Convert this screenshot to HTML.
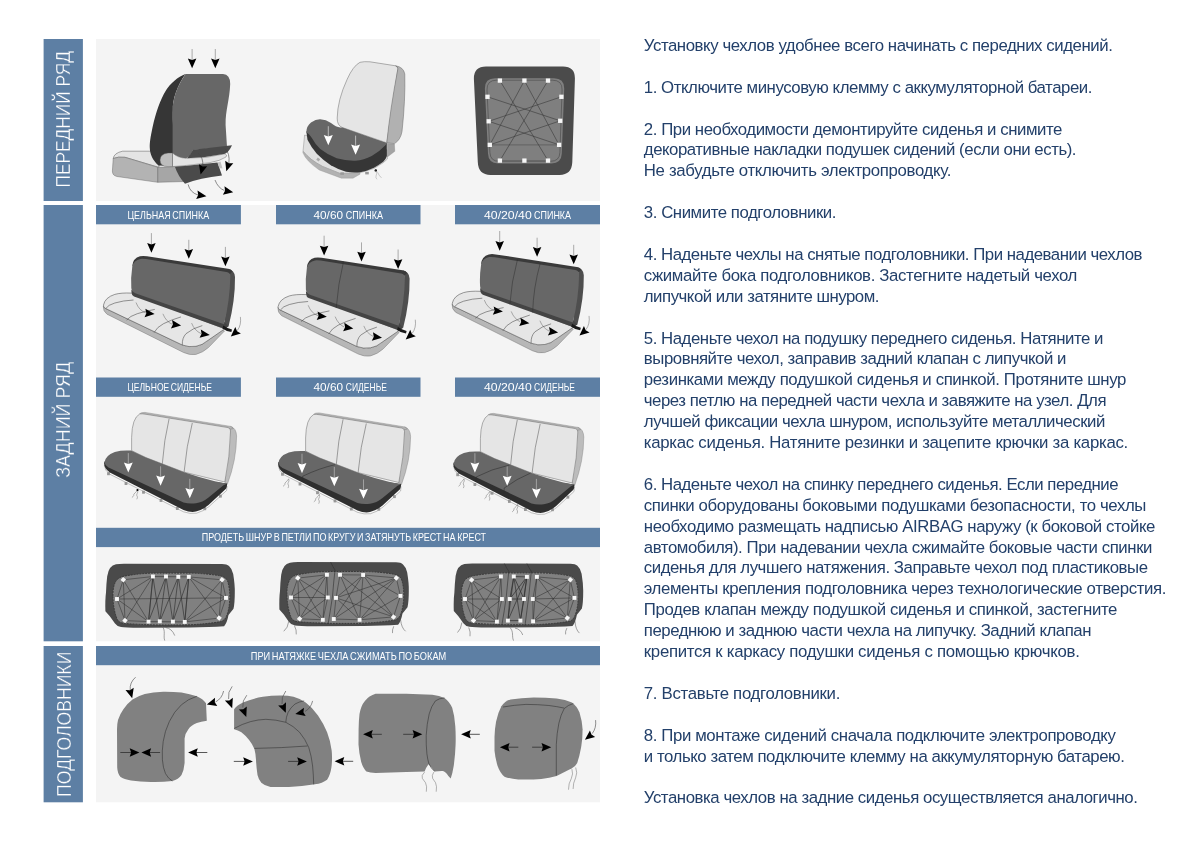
<!DOCTYPE html>
<html lang="ru"><head><meta charset="utf-8"><title>Инструкция по установке чехлов</title>
<style>
html,body{margin:0;padding:0;background:#fff;}
body{width:1200px;height:849px;position:relative;overflow:hidden;-webkit-font-smoothing:antialiased;font-family:"Liberation Sans",sans-serif;}
.t{position:absolute;left:643.8px;white-space:pre;font-size:16.8px;line-height:20.9px;height:20.9px;color:#23406a;}
svg{position:absolute;left:0;top:0;}
#wrap{position:absolute;left:0;top:0;width:1200px;height:849px;will-change:transform;transform:translateZ(0);}
svg text{font-family:"Liberation Sans",sans-serif;}
</style></head><body><div id="wrap">
<svg width="1200" height="849" viewBox="0 0 1200 849">
<defs>
<path id="ah" d="M0,0 L-3.6,-9.5 L0,-7.6 L3.6,-9.5 Z"/>
</defs>
<!-- panels -->
<g fill="#f4f4f4">
<rect x="96" y="39" width="504" height="162"/>
<rect x="96" y="205" width="504" height="436.3"/>
<rect x="96" y="646" width="504" height="156.3"/>
</g>
<!-- vertical bands -->
<g fill="#5d7fa4">
<rect x="43.6" y="39" width="39.3" height="162"/>
<rect x="43.6" y="205" width="39.3" height="436.3"/>
<rect x="43.6" y="646" width="39.3" height="156.3"/>
<rect x="96" y="205" width="144.9" height="19.3"/>
<rect x="276" y="205" width="144.5" height="19.3"/>
<rect x="455" y="205" width="145" height="19.3"/>
<rect x="96" y="377.5" width="144.9" height="19.3"/>
<rect x="276" y="377.5" width="144.5" height="19.3"/>
<rect x="455" y="377.5" width="145" height="19.3"/>
<rect x="96" y="527.8" width="504" height="19.3"/>
<rect x="96" y="646" width="504" height="19.2"/>
</g>
<g fill="#fff" font-size="10.1" word-spacing="-1">
<text x="127.5" y="218.8" textLength="81.75" lengthAdjust="spacingAndGlyphs">ЦЕЛЬНАЯ СПИНКА</text>
<text x="313.5" y="218.8" textLength="29.5" lengthAdjust="spacingAndGlyphs">40/60</text><text x="345.8" y="218.8" textLength="37.1" lengthAdjust="spacingAndGlyphs">СПИНКА</text>
<text x="484" y="218.8" textLength="47.7" lengthAdjust="spacingAndGlyphs">40/20/40</text><text x="534.1" y="218.8" textLength="36.9" lengthAdjust="spacingAndGlyphs">СПИНКА</text>
<text x="127.5" y="390.9" textLength="84.5" lengthAdjust="spacingAndGlyphs">ЦЕЛЬНОЕ СИДЕНЬЕ</text>
<text x="313.5" y="390.9" textLength="29.5" lengthAdjust="spacingAndGlyphs">40/60</text><text x="345.8" y="390.9" textLength="41.1" lengthAdjust="spacingAndGlyphs">СИДЕНЬЕ</text>
<text x="484" y="390.9" textLength="47.7" lengthAdjust="spacingAndGlyphs">40/20/40</text><text x="534.1" y="390.9" textLength="40.9" lengthAdjust="spacingAndGlyphs">СИДЕНЬЕ</text>
<text x="201.75" y="541.4" textLength="284.3" lengthAdjust="spacingAndGlyphs">ПРОДЕТЬ ШНУР В ПЕТЛИ ПО КРУГУ И ЗАТЯНУТЬ КРЕСТ НА КРЕСТ</text>
<text x="250.75" y="659.6" textLength="195.5" lengthAdjust="spacingAndGlyphs">ПРИ НАТЯЖКЕ ЧЕХЛА СЖИМАТЬ ПО БОКАМ</text>
</g>
<g fill="#fff" font-size="20.2" stroke="#5d7fa4" stroke-width="0.35">
<text transform="translate(69.8,187.5) rotate(-90)" textLength="136.5" lengthAdjust="spacingAndGlyphs">ПЕРЕДНИЙ РЯД</text>
<text transform="translate(69.8,477.8) rotate(-90)" textLength="116" lengthAdjust="spacingAndGlyphs">ЗАДНИЙ РЯД</text>
<text transform="translate(70.6,797) rotate(-90)" textLength="145.3" lengthAdjust="spacingAndGlyphs" font-size="19.6">ПОДГОЛОВНИКИ</text>
</g>
<g id="f1">
<path d="M113.2,158.5 Q114,153 122.5,151.2 L152,151.2 L160,160 L158.8,167.3 L125,157.3 Q118,156.5 113.2,158.5 Z" fill="#e4e4e4" stroke="#555" stroke-width="0.5"/>
<path d="M113.2,158.5 Q118,156.5 125,157.3 L157.8,167.3 L157.8,182.3 L117,176.5 Q112.3,175.5 112.4,171 Z" fill="#b3b3b3" stroke="#555" stroke-width="0.4"/>
<path d="M157.8,167.3 L186,166 L186,181.5 L157.8,182.3 Z" fill="#a6a6a6" stroke="#555" stroke-width="0.4"/>
<path d="M185.5,74 C178,76.5 170,84 166.2,90 C160,100 156,112 152.5,127.5 C150.5,137 149.5,143 149.8,148 C150,154 152.5,160 158.5,165.5 L173,166 L173,110 C172,100 178,84 185.5,74 Z" fill="#363636"/>
<path d="M172.5,153 L168,153 Q160,154 160,160 Q160,166.6 168,166.6 L172.5,166.6 Z" fill="#bdbdbd" stroke="#555" stroke-width="0.4"/>
<path d="M172.5,153 Q178,158 186,158.2 L206,157.4 L225,153.8 Q227.8,155 226,157 Q220,161 210,162.6 L187.5,165.3 L172.5,166.6 Z" fill="#e4e4e4" stroke="#555" stroke-width="0.4"/>
<path d="M185.5,74 L223,74 Q230.2,74.3 230.2,84 C229.6,100 225.4,110 225.6,125 L227,147 L193,150 Q190.5,157 186,158.2 Q178,158 172.6,153 L172.6,125 C171,108 173,92 185.5,74 Z" fill="#676767"/>
<path d="M193,149.8 L232,145.3 L230,149 Q228,152.5 225,153.8 Q206,157.8 187.2,158.2 Q190.5,155 193,149.8 Z" fill="#4a4a4a"/>
<path d="M175,167 L217.5,162.4 L222,175.6 Q200,178 185,183.8 Q178,176 175,167 Z" fill="#4a4a4a"/>
<path d="M217.5,162.4 L220.5,161.6 L222.5,168.5 L219.3,168 Z" fill="#c2c2c2"/>
<path d="M192.1,49 L192.1,61.2" stroke="#8a8a8a" stroke-width="0.7" fill="none"/>
<path d="M0,0 L-4.25,-9.7 L0,-8.3 L4.25,-9.7 Z" fill="#000" transform="translate(192.10,68.20) rotate(0.0) scale(1.0)"/>
<path d="M215.3,49 L215.3,61.2" stroke="#8a8a8a" stroke-width="0.7" fill="none"/>
<path d="M0,0 L-4.25,-9.7 L0,-8.3 L4.25,-9.7 Z" fill="#000" transform="translate(215.30,68.20) rotate(0.0) scale(1.0)"/>
<path d="M198.1,153.1 Q203.6,158 202.7,166" stroke="#444" stroke-width="0.6" fill="none"/>
<path d="M0,0 L-4.25,-9.7 L0,-8.3 L4.25,-9.7 Z" fill="#000" transform="translate(200.60,174.60) rotate(14.6) scale(1.0)"/>
<path d="M225,148.8 Q230,153 228.9,163" stroke="#444" stroke-width="0.6" fill="none"/>
<path d="M0,0 L-4.25,-9.7 L0,-8.3 L4.25,-9.7 Z" fill="#000" transform="translate(226.30,171.20) rotate(17.8) scale(1.0)"/>
<path d="M188.1,184.4 Q190,192.5 198,195" stroke="#444" stroke-width="0.6" fill="none"/>
<path d="M0,0 L-4.25,-9.7 L0,-8.3 L4.25,-9.7 Z" fill="#000" transform="translate(206.40,196.30) rotate(-80.9) scale(1.0)"/>
<path d="M215,180 Q218,188 224.5,190.6" stroke="#444" stroke-width="0.6" fill="none"/>
<path d="M0,0 L-4.25,-9.7 L0,-8.3 L4.25,-9.7 Z" fill="#000" transform="translate(233.20,192.30) rotate(-79.3) scale(1.0)"/>
</g>
<g id="f2">
<path d="M304.6,135 L303,151.3 Q310,160 322.7,166.5 L340.2,173.5 L360,172.8 L374,168.5 L383.5,162.5 L387.4,159 L387,150 L320,140 Z" fill="#e0e0e0" stroke="#777" stroke-width="0.4"/>
<path d="M303.2,151.3 Q310,160 322.7,166.5 L340.2,173.5 L360,172.6 L360,174.2 L353,178.2 L341.3,178.2 L319.2,170 Q306,161 302.8,152.6 Z" fill="#b2b2b2" stroke="#888" stroke-width="0.3"/>
<rect x="340.3" y="172.3" width="3.6" height="2.6" fill="#999"/><rect x="365.2" y="171.8" width="3.6" height="2.6" fill="#999"/><rect x="317" y="158" width="3" height="2.6" fill="#aaa" transform="rotate(35 318 159)"/>
<path d="M360,62.3 Q364,61.3 370,61.8 L395.6,65.8 Q397.5,66.3 397.9,68.7 L386.8,142.9 L342.5,127.6 Q337,125.5 337.2,118 Q337.5,100 347.2,79.2 Q353,66 360,62.3 Z" fill="#e5e5e5" stroke="#666" stroke-width="0.5"/>
<path d="M395.6,65.8 Q403.5,67 404.8,74 Q405.5,100 402,131.5 Q400.5,140 394.5,143.6 L386.8,142.9 Q390,110 397.9,68.7 Q397.5,66.3 395.6,65.8 Z" fill="#b1b1b1" stroke="#666" stroke-width="0.5"/>
<path d="M387.3,143.6 L394.4,144 L394.8,151.3 L387.4,157 Z" fill="#a3a3a3" stroke="#777" stroke-width="0.3"/>
<path d="M306.3,131.5 L307.5,139.7 Q311,147 316.8,153.7 Q323,160 330.8,165.3 Q338,169.5 346,171.75 Q353,173 360,172.3 Q367,171 374,167.7 Q379,165 383.3,161.8 Q386,159 386.9,156 L386.8,143.2 L340,128 Z" fill="#363636"/>
<path d="M306.3,132.2 Q306.5,126 311,122.5 Q316,119 320.3,119.2 Q326,119.5 331,123 Q336,127 340.2,127.6 L342.5,127.6 L386.8,143.2 L385.7,144.9 Q380,151 371.7,156 Q364,160 355.3,160.7 Q346,161 336.7,158.3 Q328,155 320.3,149 Q315,144 312.2,138.5 Q309,133.5 306.3,132.2 Z" fill="#676767"/>
<circle cx="375.8" cy="170.4" r="1.2" fill="#000"/>
<path d="M375.8,170.4 Q377.5,174 376,176 Q375.5,178 377,179.3 M375.8,170.4 Q378.5,173 379,175 Q380,177 381.6,177.6" stroke="#888" stroke-width="0.4" fill="none"/>
<path d="M328.3,126.2 L328.3,138.3" stroke="#ddd" stroke-width="0.7" fill="none"/>
<path d="M0,0 L-4.25,-9.7 L0,-8.3 L4.25,-9.7 Z" fill="#fff" transform="translate(328.30,145.30) rotate(0.0) scale(1.06)"/>
<path d="M355.6,135.6 L355.6,147.8" stroke="#ddd" stroke-width="0.7" fill="none"/>
<path d="M0,0 L-4.25,-9.7 L0,-8.3 L4.25,-9.7 Z" fill="#fff" transform="translate(355.60,154.80) rotate(0.0) scale(1.06)"/>
</g>
<g id="f3">
<path d="M486,66.5 L563,66.5 Q575.3,66.5 574.9,79 L572.3,162 Q571.8,174.9 559.5,174.9 L490.5,174.9 Q478.3,174.9 477.8,162 L473.9,79 Q473.6,66.5 486,66.5 Z" fill="#4b4b4b"/>
<path d="M495,78.3 L554,78.3 Q564.5,78.3 564.2,89 L561.8,153.5 Q561.4,163.4 551.5,163.4 L498,163.4 Q488.4,163.4 488,153.5 L484.9,89 Q484.6,78.3 495,78.3 Z" fill="#7f7f7f"/>
<path d="M496.5,80.2 L552.5,80.2 Q562.4,80.2 562.1,90 L559.9,152.5 Q559.5,161.3 550.5,161.3 L499,161.3 Q490.3,161.3 489.9,152.5 L487,90 Q486.7,80.2 496.5,80.2 Z" fill="none" stroke="#3c3c3c" stroke-width="0.5"/>
<path d="M489.8,144.85 L559.1,144.85 M499.9,160.6 L548,160.6" stroke="#686868" stroke-width="1.4" fill="none"/>
<path d="M499.9,80.6 L548,160.6 M548,80.6 L499.9,160.6 M524.4,80.6 L489.8,144.85 M524.4,80.6 L559.1,144.85 M487.5,96.8 L560.2,120.8 M561.4,96.8 L488.7,121.3 M488.7,121.3 L559.1,144.85 M560.2,120.8 L489.8,144.85 " stroke="#333" stroke-width="0.55" fill="none"/>
<rect x="497.75" y="78.45" width="4.3" height="4.3" fill="#f6f6f6"/>
<rect x="522.25" y="78.45" width="4.3" height="4.3" fill="#f6f6f6"/>
<rect x="545.85" y="78.45" width="4.3" height="4.3" fill="#f6f6f6"/>
<rect x="497.75" y="158.45" width="4.3" height="4.3" fill="#f6f6f6"/>
<rect x="522.25" y="158.45" width="4.3" height="4.3" fill="#f6f6f6"/>
<rect x="545.85" y="158.45" width="4.3" height="4.3" fill="#f6f6f6"/>
<rect x="485.35" y="94.65" width="4.3" height="4.3" fill="#f6f6f6"/>
<rect x="486.55" y="119.15" width="4.3" height="4.3" fill="#f6f6f6"/>
<rect x="487.65" y="142.70" width="4.3" height="4.3" fill="#f6f6f6"/>
<rect x="559.25" y="94.65" width="4.3" height="4.3" fill="#f6f6f6"/>
<rect x="558.05" y="118.65" width="4.3" height="4.3" fill="#f6f6f6"/>
<rect x="556.95" y="142.70" width="4.3" height="4.3" fill="#f6f6f6"/>
</g>
<g id="r1"><g transform="translate(0,0)">
<path d="M103.3,306 Q102.8,311 107,314.2 L183.5,352.5 Q190,355.5 196,354.4 Q203,352.5 208.5,347.5 L224.5,331 L222.3,329.5 L208.5,340 Q202,345.5 196,346.3 Q189,347.5 182.3,345 L104.8,308.1 Z" fill="#b7b7b7" stroke="#666" stroke-width="0.4"/>
<path d="M131.6,293.1 Q121,292.6 114.8,294.4 Q105,297.5 103.5,305 Q103.3,307 104.8,308.1 L182.3,345 Q189,347.5 196,346.3 Q202,345.5 208.5,340 L224.8,328.8 Z" fill="#e6e6e6" stroke="#4a4a4a" stroke-width="0.55"/>
<path d="M106,308.3 Q108,305 114.8,303 Q123,300.5 133.5,300 M126.6,320 Q130,316 137.3,313.7 Q146,311 154.8,309.4 M154.1,332.5 Q157,327 163.5,323.7 Q172,319.5 181,316.9 M182.3,345 Q182,338 186,333.7 Q193,328 202.3,325.6" fill="none" stroke="#444" stroke-width="0.55"/>
<path d="M228,268.8 Q234.5,270 235,277 Q235.3,300 228.6,326.3 L224.1,325.2 L230,272 Z" fill="#4e4e4e"/>
<path d="M132.2,266 Q133,258 140,256.2 Q143,255.6 147,256.2 L228,268.8 Q231.5,269.5 232.5,271.5 L229.5,274.5 L140,260.5 Z" fill="#3a3a3a"/>
<path d="M131.3,290 L131.6,293.1 Q131.8,295.8 134,296.6 L224.8,329 L228.6,326.3 L224.5,322 Z" fill="#444"/>
<path d="M140.4,258.9 Q142,258.5 146,259.1 L226.5,271.9 Q230.4,272.7 230.3,276 Q230,300 224,324.2 L135.3,293.2 Q131.6,291.8 131.3,288 Q130.6,278 132.3,266.3 Q133.7,260.2 140.4,258.9 Z" fill="#676767"/>
<path d="M223.3,325.6 Q227,328.3 232,329.6 L231.4,332 Q226,331.4 222.4,328.6 Z" fill="#1a1a1a"/>
</g><g transform="translate(0,0)">
<path d="M151.4,233.1 L151.4,245.8" stroke="#8a8a8a" stroke-width="0.7" fill="none"/>
<path d="M0,0 L-4.25,-9.7 L0,-8.3 L4.25,-9.7 Z" fill="#000" transform="translate(151.40,252.80) rotate(0.0) scale(1.0)"/>
<path d="M188.8,239.8 L188.8,251.8" stroke="#8a8a8a" stroke-width="0.7" fill="none"/>
<path d="M0,0 L-4.25,-9.7 L0,-8.3 L4.25,-9.7 Z" fill="#000" transform="translate(188.80,258.80) rotate(0.0) scale(1.0)"/>
<path d="M225.4,246.9 L225.4,259.3" stroke="#8a8a8a" stroke-width="0.7" fill="none"/>
<path d="M0,0 L-4.25,-9.7 L0,-8.3 L4.25,-9.7 Z" fill="#000" transform="translate(225.40,266.30) rotate(0.0) scale(1.0)"/>
</g><g transform="translate(0,0)">
<path d="M136,302.5 Q139,310.5 146,313" stroke="#555" stroke-width="0.45" fill="none"/>
<path d="M0,0 L-4.25,-9.7 L0,-8.3 L4.25,-9.7 Z" fill="#000" transform="translate(154.60,314.00) rotate(-84.2) scale(1.0)"/>
<path d="M162.9,313.8 Q166,321.5 172,324.2" stroke="#555" stroke-width="0.45" fill="none"/>
<path d="M0,0 L-4.25,-9.7 L0,-8.3 L4.25,-9.7 Z" fill="#000" transform="translate(181.10,325.60) rotate(-82.1) scale(1.0)"/>
<path d="M191.6,323.1 Q194.5,330.5 201,333.6" stroke="#555" stroke-width="0.45" fill="none"/>
<path d="M0,0 L-4.25,-9.7 L0,-8.3 L4.25,-9.7 Z" fill="#000" transform="translate(209.80,335.00) rotate(-82.0) scale(1.0)"/>
</g><g transform="translate(0,0)">
<path d="M240.4,316.9 Q241.5,325 237.3,330.6" stroke="#555" stroke-width="0.45" fill="none"/>
<path d="M0,0 L-4.25,-9.7 L0,-8.3 L4.25,-9.7 Z" fill="#000" transform="translate(230.80,336.60) rotate(48.8) scale(1.0)"/>
</g></g>
<g id="r2"><g transform="translate(174.6,1.5)">
<path d="M103.3,306 Q102.8,311 107,314.2 L183.5,352.5 Q190,355.5 196,354.4 Q203,352.5 208.5,347.5 L224.5,331 L222.3,329.5 L208.5,340 Q202,345.5 196,346.3 Q189,347.5 182.3,345 L104.8,308.1 Z" fill="#b7b7b7" stroke="#666" stroke-width="0.4"/>
<path d="M131.6,293.1 Q121,292.6 114.8,294.4 Q105,297.5 103.5,305 Q103.3,307 104.8,308.1 L182.3,345 Q189,347.5 196,346.3 Q202,345.5 208.5,340 L224.8,328.8 Z" fill="#e6e6e6" stroke="#4a4a4a" stroke-width="0.55"/>
<path d="M106,308.3 Q108,305 114.8,303 Q123,300.5 133.5,300 M126.6,320 Q130,316 137.3,313.7 Q146,311 154.8,309.4 M154.1,332.5 Q157,327 163.5,323.7 Q172,319.5 181,316.9 M182.3,345 Q182,338 186,333.7 Q193,328 202.3,325.6" fill="none" stroke="#444" stroke-width="0.55"/>
<path d="M228,268.8 Q234.5,270 235,277 Q235.3,300 228.6,326.3 L224.1,325.2 L230,272 Z" fill="#4e4e4e"/>
<path d="M132.2,266 Q133,258 140,256.2 Q143,255.6 147,256.2 L228,268.8 Q231.5,269.5 232.5,271.5 L229.5,274.5 L140,260.5 Z" fill="#3a3a3a"/>
<path d="M131.3,290 L131.6,293.1 Q131.8,295.8 134,296.6 L224.8,329 L228.6,326.3 L224.5,322 Z" fill="#444"/>
<path d="M140.4,258.9 Q142,258.5 146,259.1 L226.5,271.9 Q230.4,272.7 230.3,276 Q230,300 224,324.2 L135.3,293.2 Q131.6,291.8 131.3,288 Q130.6,278 132.3,266.3 Q133.7,260.2 140.4,258.9 Z" fill="#676767"/>
<path d="M168.9,260.1 Q163.5,282 161.6,306.6" fill="none" stroke="#2e2e2e" stroke-width="0.5"/>
<path d="M223.3,325.6 Q227,328.3 232,329.6 L231.4,332 Q226,331.4 222.4,328.6 Z" fill="#1a1a1a"/>
</g><g transform="translate(172.7,2.6)">
<path d="M151.4,233.1 L151.4,245.8" stroke="#8a8a8a" stroke-width="0.7" fill="none"/>
<path d="M0,0 L-4.25,-9.7 L0,-8.3 L4.25,-9.7 Z" fill="#000" transform="translate(151.40,252.80) rotate(0.0) scale(1.0)"/>
<path d="M188.8,239.8 L188.8,251.8" stroke="#8a8a8a" stroke-width="0.7" fill="none"/>
<path d="M0,0 L-4.25,-9.7 L0,-8.3 L4.25,-9.7 Z" fill="#000" transform="translate(188.80,258.80) rotate(0.0) scale(1.0)"/>
<path d="M225.4,246.9 L225.4,259.3" stroke="#8a8a8a" stroke-width="0.7" fill="none"/>
<path d="M0,0 L-4.25,-9.7 L0,-8.3 L4.25,-9.7 Z" fill="#000" transform="translate(225.40,266.30) rotate(0.0) scale(1.0)"/>
</g><g transform="translate(172.2,2.8)">
<path d="M136,302.5 Q139,310.5 146,313" stroke="#555" stroke-width="0.45" fill="none"/>
<path d="M0,0 L-4.25,-9.7 L0,-8.3 L4.25,-9.7 Z" fill="#000" transform="translate(154.60,314.00) rotate(-84.2) scale(1.0)"/>
<path d="M162.9,313.8 Q166,321.5 172,324.2" stroke="#555" stroke-width="0.45" fill="none"/>
<path d="M0,0 L-4.25,-9.7 L0,-8.3 L4.25,-9.7 Z" fill="#000" transform="translate(181.10,325.60) rotate(-82.1) scale(1.0)"/>
<path d="M191.6,323.1 Q194.5,330.5 201,333.6" stroke="#555" stroke-width="0.45" fill="none"/>
<path d="M0,0 L-4.25,-9.7 L0,-8.3 L4.25,-9.7 Z" fill="#000" transform="translate(209.80,335.00) rotate(-82.0) scale(1.0)"/>
</g><g transform="translate(174.9,2.8)">
<path d="M240.4,316.9 Q241.5,325 237.3,330.6" stroke="#555" stroke-width="0.45" fill="none"/>
<path d="M0,0 L-4.25,-9.7 L0,-8.3 L4.25,-9.7 Z" fill="#000" transform="translate(230.80,336.60) rotate(48.8) scale(1.0)"/>
</g></g>
<g id="r3"><g transform="translate(348.8,-1.8)">
<path d="M103.3,306 Q102.8,311 107,314.2 L183.5,352.5 Q190,355.5 196,354.4 Q203,352.5 208.5,347.5 L224.5,331 L222.3,329.5 L208.5,340 Q202,345.5 196,346.3 Q189,347.5 182.3,345 L104.8,308.1 Z" fill="#b7b7b7" stroke="#666" stroke-width="0.4"/>
<path d="M131.6,293.1 Q121,292.6 114.8,294.4 Q105,297.5 103.5,305 Q103.3,307 104.8,308.1 L182.3,345 Q189,347.5 196,346.3 Q202,345.5 208.5,340 L224.8,328.8 Z" fill="#e6e6e6" stroke="#4a4a4a" stroke-width="0.55"/>
<path d="M106,308.3 Q108,305 114.8,303 Q123,300.5 133.5,300 M126.6,320 Q130,316 137.3,313.7 Q146,311 154.8,309.4 M154.1,332.5 Q157,327 163.5,323.7 Q172,319.5 181,316.9 M182.3,345 Q182,338 186,333.7 Q193,328 202.3,325.6" fill="none" stroke="#444" stroke-width="0.55"/>
<path d="M228,268.8 Q234.5,270 235,277 Q235.3,300 228.6,326.3 L224.1,325.2 L230,272 Z" fill="#4e4e4e"/>
<path d="M132.2,266 Q133,258 140,256.2 Q143,255.6 147,256.2 L228,268.8 Q231.5,269.5 232.5,271.5 L229.5,274.5 L140,260.5 Z" fill="#3a3a3a"/>
<path d="M131.3,290 L131.6,293.1 Q131.8,295.8 134,296.6 L224.8,329 L228.6,326.3 L224.5,322 Z" fill="#444"/>
<path d="M140.4,258.9 Q142,258.5 146,259.1 L226.5,271.9 Q230.4,272.7 230.3,276 Q230,300 224,324.2 L135.3,293.2 Q131.6,291.8 131.3,288 Q130.6,278 132.3,266.3 Q133.7,260.2 140.4,258.9 Z" fill="#676767"/>
<path d="M168.7,261.2 Q162.5,284 161.1,306.2" fill="none" stroke="#2e2e2e" stroke-width="0.5"/>
<path d="M191.45,264.9 Q184.5,290 183.85,314.4" fill="none" stroke="#2e2e2e" stroke-width="0.5"/>
<path d="M223.3,325.6 Q227,328.3 232,329.6 L231.4,332 Q226,331.4 222.4,328.6 Z" fill="#1a1a1a"/>
</g><g transform="translate(348.3,-2.1)">
<path d="M151.4,233.1 L151.4,245.8" stroke="#8a8a8a" stroke-width="0.7" fill="none"/>
<path d="M0,0 L-4.25,-9.7 L0,-8.3 L4.25,-9.7 Z" fill="#000" transform="translate(151.40,252.80) rotate(0.0) scale(1.0)"/>
<path d="M188.8,239.8 L188.8,251.8" stroke="#8a8a8a" stroke-width="0.7" fill="none"/>
<path d="M0,0 L-4.25,-9.7 L0,-8.3 L4.25,-9.7 Z" fill="#000" transform="translate(188.80,258.80) rotate(0.0) scale(1.0)"/>
<path d="M225.4,246.9 L225.4,259.3" stroke="#8a8a8a" stroke-width="0.7" fill="none"/>
<path d="M0,0 L-4.25,-9.7 L0,-8.3 L4.25,-9.7 Z" fill="#000" transform="translate(225.40,266.30) rotate(0.0) scale(1.0)"/>
</g><g transform="translate(348.3,-2.4)">
<path d="M136,302.5 Q139,310.5 146,313" stroke="#555" stroke-width="0.45" fill="none"/>
<path d="M0,0 L-4.25,-9.7 L0,-8.3 L4.25,-9.7 Z" fill="#000" transform="translate(154.60,314.00) rotate(-84.2) scale(1.0)"/>
<path d="M162.9,313.8 Q166,321.5 172,324.2" stroke="#555" stroke-width="0.45" fill="none"/>
<path d="M0,0 L-4.25,-9.7 L0,-8.3 L4.25,-9.7 Z" fill="#000" transform="translate(181.10,325.60) rotate(-82.1) scale(1.0)"/>
<path d="M191.6,323.1 Q194.5,330.5 201,333.6" stroke="#555" stroke-width="0.45" fill="none"/>
<path d="M0,0 L-4.25,-9.7 L0,-8.3 L4.25,-9.7 Z" fill="#000" transform="translate(209.80,335.00) rotate(-82.0) scale(1.0)"/>
</g><g transform="translate(348.65,-1)">
<path d="M240.4,316.9 Q241.5,325 237.3,330.6" stroke="#555" stroke-width="0.45" fill="none"/>
<path d="M0,0 L-4.25,-9.7 L0,-8.3 L4.25,-9.7 Z" fill="#000" transform="translate(230.80,336.60) rotate(48.8) scale(1.0)"/>
</g></g>
<g id="s1"><g transform="translate(0.00,0) scale(1,1)">
<path d="M104.3,465 Q104.5,470.5 110,474.3 L183.5,511.8 Q190,514.2 196.5,513.2 Q203,511.5 209,506.5 L226.6,490.5 L227,486" fill="#fafafa" stroke="#777" stroke-width="0.45"/>
<rect x="107.1" y="472.20000000000005" width="2.8" height="3" fill="#969696"/>
<rect x="124.6" y="482.0" width="2.8" height="3" fill="#969696"/>
<rect x="142.1" y="490.70000000000005" width="2.8" height="3" fill="#969696"/>
<rect x="159.6" y="498.90000000000003" width="2.8" height="3" fill="#969696"/>
<rect x="175.9" y="507.0" width="2.8" height="3" fill="#969696"/>
<rect x="203.4" y="507.20000000000005" width="2.8" height="3" fill="#969696"/>
<rect x="219.0" y="494.6" width="2.8" height="3" fill="#969696"/>
<path d="M230.6,426.4 Q236.2,428 236.6,436 Q236.5,460 227.4,484.2 L224.6,482 L230.4,429 Z" fill="#bcbcbc" stroke="#777" stroke-width="0.4"/>
<path d="M139.8,413.7 Q141,412.3 145,412.4 L230.6,426.4 Q232.6,427 233.4,428.6 L230.4,429.2 L141,415 Z" fill="#b4b4b4" stroke="#777" stroke-width="0.4"/>
<path d="M139.8,413.9 Q142,413.6 146,414.3 L228,427.6 Q230.6,428.2 230.5,431 Q230,457 224.8,482 L183.5,472 L146,457.6 L131.6,450.6 L131.6,437.5 Q132,418 139.8,413.9 Z" fill="#e5e5e5" stroke="#666" stroke-width="0.5"/>
<path d="M169.1,418.7 Q164,440 162.3,463.8 M192.3,423 Q186.4,446 184.1,472" fill="none" stroke="#666" stroke-width="0.6"/>
<path d="M104.4,461.5 L104.1,463.5 Q104.2,468.5 109.8,472.5 L183.5,510 Q190,512.6 196,511.6 Q202.5,510 208.5,505 L226,488.8 Q227.3,486.5 227,483.6 L200,480 Z" fill="#2f2f2f"/>
<path d="M104.5,462.5 Q105,455.5 114.8,451.9 Q122,450 131,450.6 Q138,454 146,457.5 L183.5,471.9 Q200,477.5 214.8,481.2 L226.8,483.7 L223.5,485.2 L208.5,497.5 Q202.5,502.5 196,503.2 Q189.5,504.3 183.5,502.5 L108.5,467.6 Q105,465.5 104.5,462.5 Z" fill="#676767"/>
<path d="M137.5,490 q-1.2,2 -2.6,3 q-1.6,1.4 -1.2,2.6 q-0.6,1.2 -1.8,1.9 M137.5,490 q0.8,2.4 -0.4,3.6 q-1,1.6 0.2,2.8 q0.4,1.2 -0.5,2.9" stroke="#6e6e6e" stroke-width="0.5" fill="none"/>
<circle cx="137.5" cy="490" r="1.1" fill="#000"/>
</g><g transform="translate(0,0)">
<path d="M128.3,453.1 L128.3,465.6" stroke="#c9c9c9" stroke-width="0.6" fill="none"/>
<path d="M0,0 L-4.25,-9.7 L0,-8.3 L4.25,-9.7 Z" fill="#fff" transform="translate(128.30,472.60) rotate(0.0) scale(1.04)"/>
<path d="M160.6,466.3 L160.6,478.7" stroke="#c9c9c9" stroke-width="0.6" fill="none"/>
<path d="M0,0 L-4.25,-9.7 L0,-8.3 L4.25,-9.7 Z" fill="#fff" transform="translate(160.60,485.70) rotate(0.0) scale(1.04)"/>
<path d="M189.8,478.8 L189.8,491.2" stroke="#c9c9c9" stroke-width="0.6" fill="none"/>
<path d="M0,0 L-4.25,-9.7 L0,-8.3 L4.25,-9.7 Z" fill="#fff" transform="translate(189.80,498.20) rotate(0.0) scale(1.04)"/>
</g></g>
<g id="s2"><g transform="translate(174.00,0.5) scale(1,1)">
<path d="M104.3,465 Q104.5,470.5 110,474.3 L183.5,511.8 Q190,514.2 196.5,513.2 Q203,511.5 209,506.5 L226.6,490.5 L227,486" fill="#fafafa" stroke="#777" stroke-width="0.45"/>
<rect x="107.1" y="472.20000000000005" width="2.8" height="3" fill="#969696"/>
<rect x="124.6" y="482.0" width="2.8" height="3" fill="#969696"/>
<rect x="142.1" y="490.70000000000005" width="2.8" height="3" fill="#969696"/>
<rect x="159.6" y="498.90000000000003" width="2.8" height="3" fill="#969696"/>
<rect x="175.9" y="507.0" width="2.8" height="3" fill="#969696"/>
<rect x="203.4" y="507.20000000000005" width="2.8" height="3" fill="#969696"/>
<rect x="219.0" y="494.6" width="2.8" height="3" fill="#969696"/>
<path d="M230.6,426.4 Q236.2,428 236.6,436 Q236.5,460 227.4,484.2 L224.6,482 L230.4,429 Z" fill="#bcbcbc" stroke="#777" stroke-width="0.4"/>
<path d="M139.8,413.7 Q141,412.3 145,412.4 L230.6,426.4 Q232.6,427 233.4,428.6 L230.4,429.2 L141,415 Z" fill="#b4b4b4" stroke="#777" stroke-width="0.4"/>
<path d="M139.8,413.9 Q142,413.6 146,414.3 L228,427.6 Q230.6,428.2 230.5,431 Q230,457 224.8,482 L183.5,472 L146,457.6 L131.6,450.6 L131.6,437.5 Q132,418 139.8,413.9 Z" fill="#e5e5e5" stroke="#666" stroke-width="0.5"/>
<path d="M169.1,418.7 Q164,440 162.3,463.8 M192.3,423 Q186.4,446 184.1,472" fill="none" stroke="#666" stroke-width="0.6"/>
<path d="M104.4,461.5 L104.1,463.5 Q104.2,468.5 109.8,472.5 L183.5,510 Q190,512.6 196,511.6 Q202.5,510 208.5,505 L226,488.8 Q227.3,486.5 227,483.6 L200,480 Z" fill="#2f2f2f"/>
<path d="M104.5,462.5 Q105,455.5 114.8,451.9 Q122,450 131,450.6 Q138,454 146,457.5 L183.5,471.9 Q200,477.5 214.8,481.2 L226.8,483.7 L223.5,485.2 L208.5,497.5 Q202.5,502.5 196,503.2 Q189.5,504.3 183.5,502.5 L108.5,467.6 Q105,465.5 104.5,462.5 Z" fill="#676767"/>
<path d="M161,464.2 Q146,467.5 128.7,475.7 L128.7,480.8" fill="none" stroke="#2c2c2c" stroke-width="0.55"/>
<path d="M114.7,478.3 q-1.2,2 -2.6,3 q-1.6,1.4 -1.2,2.6 q-0.6,1.2 -1.8,1.9 M114.7,478.3 q0.8,2.4 -0.4,3.6 q-1,1.6 0.2,2.8 q0.4,1.2 -0.5,2.9" stroke="#6e6e6e" stroke-width="0.5" fill="none"/>
<path d="M145.4,493.9 q-1.2,2 -2.6,3 q-1.6,1.4 -1.2,2.6 q-0.6,1.2 -1.8,1.9 M145.4,493.9 q0.8,2.4 -0.4,3.6 q-1,1.6 0.2,2.8 q0.4,1.2 -0.5,2.9" stroke="#6e6e6e" stroke-width="0.5" fill="none"/>
</g><g transform="translate(173.7,0.6)">
<path d="M128.3,453.1 L128.3,465.6" stroke="#c9c9c9" stroke-width="0.6" fill="none"/>
<path d="M0,0 L-4.25,-9.7 L0,-8.3 L4.25,-9.7 Z" fill="#fff" transform="translate(128.30,472.60) rotate(0.0) scale(1.04)"/>
<path d="M160.6,466.3 L160.6,478.7" stroke="#c9c9c9" stroke-width="0.6" fill="none"/>
<path d="M0,0 L-4.25,-9.7 L0,-8.3 L4.25,-9.7 Z" fill="#fff" transform="translate(160.60,485.70) rotate(0.0) scale(1.04)"/>
<path d="M189.8,478.8 L189.8,491.2" stroke="#c9c9c9" stroke-width="0.6" fill="none"/>
<path d="M0,0 L-4.25,-9.7 L0,-8.3 L4.25,-9.7 Z" fill="#fff" transform="translate(189.80,498.20) rotate(0.0) scale(1.04)"/>
</g></g>
<g id="s3"><g transform="translate(350.77,1) scale(0.985,1)">
<path d="M104.3,465 Q104.5,470.5 110,474.3 L183.5,511.8 Q190,514.2 196.5,513.2 Q203,511.5 209,506.5 L226.6,490.5 L227,486" fill="#fafafa" stroke="#777" stroke-width="0.45"/>
<rect x="107.1" y="472.20000000000005" width="2.8" height="3" fill="#969696"/>
<rect x="124.6" y="482.0" width="2.8" height="3" fill="#969696"/>
<rect x="142.1" y="490.70000000000005" width="2.8" height="3" fill="#969696"/>
<rect x="159.6" y="498.90000000000003" width="2.8" height="3" fill="#969696"/>
<rect x="175.9" y="507.0" width="2.8" height="3" fill="#969696"/>
<rect x="203.4" y="507.20000000000005" width="2.8" height="3" fill="#969696"/>
<rect x="219.0" y="494.6" width="2.8" height="3" fill="#969696"/>
<path d="M230.6,426.4 Q236.2,428 236.6,436 Q236.5,460 227.4,484.2 L224.6,482 L230.4,429 Z" fill="#bcbcbc" stroke="#777" stroke-width="0.4"/>
<path d="M139.8,413.7 Q141,412.3 145,412.4 L230.6,426.4 Q232.6,427 233.4,428.6 L230.4,429.2 L141,415 Z" fill="#b4b4b4" stroke="#777" stroke-width="0.4"/>
<path d="M139.8,413.9 Q142,413.6 146,414.3 L228,427.6 Q230.6,428.2 230.5,431 Q230,457 224.8,482 L183.5,472 L146,457.6 L131.6,450.6 L131.6,437.5 Q132,418 139.8,413.9 Z" fill="#e5e5e5" stroke="#666" stroke-width="0.5"/>
<path d="M169.1,418.7 Q164,440 162.3,463.8 M192.3,423 Q186.4,446 184.1,472" fill="none" stroke="#666" stroke-width="0.6"/>
<path d="M104.4,461.5 L104.1,463.5 Q104.2,468.5 109.8,472.5 L183.5,510 Q190,512.6 196,511.6 Q202.5,510 208.5,505 L226,488.8 Q227.3,486.5 227,483.6 L200,480 Z" fill="#2f2f2f"/>
<path d="M104.5,462.5 Q105,455.5 114.8,451.9 Q122,450 131,450.6 Q138,454 146,457.5 L183.5,471.9 Q200,477.5 214.8,481.2 L226.8,483.7 L223.5,485.2 L208.5,497.5 Q202.5,502.5 196,503.2 Q189.5,504.3 183.5,502.5 L108.5,467.6 Q105,465.5 104.5,462.5 Z" fill="#676767"/>
<path d="M161.3,464 Q142.5,468 127.5,475.9 L127.5,480.9" fill="none" stroke="#2c2c2c" stroke-width="0.55"/>
<path d="M182.5,472.1 Q168.8,477.5 155.7,487.1 L155.7,492.1" fill="none" stroke="#2c2c2c" stroke-width="0.55"/>
<path d="M115,477.8 q-1.2,2 -2.6,3 q-1.6,1.4 -1.2,2.6 q-0.6,1.2 -1.8,1.9 M115,477.8 q0.8,2.4 -0.4,3.6 q-1,1.6 0.2,2.8 q0.4,1.2 -0.5,2.9" stroke="#6e6e6e" stroke-width="0.5" fill="none"/>
<path d="M141.3,490.3 q-1.2,2 -2.6,3 q-1.6,1.4 -1.2,2.6 q-0.6,1.2 -1.8,1.9 M141.3,490.3 q0.8,2.4 -0.4,3.6 q-1,1.6 0.2,2.8 q0.4,1.2 -0.5,2.9" stroke="#6e6e6e" stroke-width="0.5" fill="none"/>
<path d="M169.4,503.4 q-1.2,2 -2.6,3 q-1.6,1.4 -1.2,2.6 q-0.6,1.2 -1.8,1.9 M169.4,503.4 q0.8,2.4 -0.4,3.6 q-1,1.6 0.2,2.8 q0.4,1.2 -0.5,2.9" stroke="#6e6e6e" stroke-width="0.5" fill="none"/>
</g><g transform="translate(346.6,0.1)">
<path d="M128.3,453.1 L128.3,465.6" stroke="#c9c9c9" stroke-width="0.6" fill="none"/>
<path d="M0,0 L-4.25,-9.7 L0,-8.3 L4.25,-9.7 Z" fill="#fff" transform="translate(128.30,472.60) rotate(0.0) scale(1.04)"/>
<path d="M160.6,466.3 L160.6,478.7" stroke="#c9c9c9" stroke-width="0.6" fill="none"/>
<path d="M0,0 L-4.25,-9.7 L0,-8.3 L4.25,-9.7 Z" fill="#fff" transform="translate(160.60,485.70) rotate(0.0) scale(1.04)"/>
<path d="M189.8,478.8 L189.8,491.2" stroke="#c9c9c9" stroke-width="0.6" fill="none"/>
<path d="M0,0 L-4.25,-9.7 L0,-8.3 L4.25,-9.7 Z" fill="#fff" transform="translate(189.80,498.20) rotate(0.0) scale(1.04)"/>
</g></g>
<g id="l1">
<g transform="translate(0,0)">
<path d="M107.2,576.3 Q108.8,565.5 116,564.3 Q119,563.7 124,563.7 L222,563.9 Q227,564 229,566 Q232,568.6 233.2,574 Q235,585 234.8,592.5 Q234.8,603 233.5,608.8 L228.5,615 Q227,623 224.1,626.3 Q210,627.3 190,627.6 L140,627.8 Q125,627.5 121,627 Q117,626.4 115,623.5 L109.8,616.2 L105.4,611.2 Q105,600 106,592.5 Q106.3,584 107.2,576.3 Z" fill="#4a4a4a"/>
<path d="M112.9,596 Q112.8,586 116,581 Q118.5,577.3 124,576.2 Q138,573.6 152,573.1 L191,573.1 Q208,573.6 221,576 Q225.5,577 227.3,580.5 Q229.8,587 229.8,597.5 Q229.5,609 226.5,616 Q224.8,620.3 221,621.6 Q205,624.3 185,625 L158,625 Q138,624.6 123,623.2 Q119,622.6 117.3,619.5 Q113.3,610 112.9,596 Z" fill="#808080" stroke="#383838" stroke-width="1" stroke-dasharray="1.8 1.1"/>
</g>
<path d="M123.3,579.8 L117,599 M123.3,579.8 L125,620.6 M123.3,579.8 L152.9,576.5 M123.3,579.8 L148.5,621.6 M117,599 L125,620.6 M117,599 L152.9,576.5 M117,599 L148.5,621.6 M125,620.6 L152.9,576.5 M125,620.6 L148.5,621.6 M152.9,576.5 L148.5,621.6 M222,579.8 L226,597.9 M222,579.8 L219.1,618.1 M222,579.8 L188.8,576.9 M222,579.8 L184.8,621.9 M226,597.9 L219.1,618.1 M226,597.9 L188.8,576.9 M226,597.9 L184.8,621.9 M219.1,618.1 L188.8,576.9 M219.1,618.1 L184.8,621.9 M188.8,576.9 L184.8,621.9 M117,599 L226,597.9 " stroke="#2a2a2a" stroke-width="0.5" fill="none"/>
<path d="M152.9,576.5 L148.5,621.6 M152.9,576.5 L159.8,621.3 M166,576.5 L148.5,621.6 M166,576.5 L159.8,621.3 M166,576.5 L172.9,621.6 M178.3,576.9 L159.8,621.3 M178.3,576.9 L172.9,621.6 M178.3,576.9 L184.8,621.9 M188.8,576.9 L172.9,621.6 M188.8,576.9 L184.8,621.9 " stroke="#303030" stroke-width="0.65" fill="none"/>
<path d="M152.9,576.5 L188.8,576.9 M148.5,621.6 L184.8,621.9 " stroke="#444" stroke-width="0.8" fill="none"/>
<rect x="150.95" y="574.55" width="3.9" height="3.9" fill="#f7f7f7"/>
<rect x="164.05" y="574.55" width="3.9" height="3.9" fill="#f7f7f7"/>
<rect x="176.35" y="574.95" width="3.9" height="3.9" fill="#f7f7f7"/>
<rect x="186.85" y="574.95" width="3.9" height="3.9" fill="#f7f7f7"/>
<rect x="146.55" y="619.65" width="3.9" height="3.9" fill="#f7f7f7"/>
<rect x="157.85" y="619.35" width="3.9" height="3.9" fill="#f7f7f7"/>
<rect x="170.95" y="619.65" width="3.9" height="3.9" fill="#f7f7f7"/>
<rect x="182.85" y="619.95" width="3.9" height="3.9" fill="#f7f7f7"/>
<rect x="115.05" y="597.05" width="3.9" height="3.9" fill="#f7f7f7"/>
<rect x="224.05" y="595.95" width="3.9" height="3.9" fill="#f7f7f7"/>
<rect x="121.35" y="577.85" width="3.9" height="3.9" fill="#f7f7f7" transform="rotate(40 123.3 579.8)"/>
<rect x="220.05" y="577.85" width="3.9" height="3.9" fill="#f7f7f7" transform="rotate(40 222 579.8)"/>
<rect x="123.05" y="618.65" width="3.9" height="3.9" fill="#f7f7f7" transform="rotate(40 125 620.6)"/>
<rect x="217.15" y="616.15" width="3.9" height="3.9" fill="#f7f7f7" transform="rotate(40 219.1 618.1)"/>
<path d="M162.25,626.25 C166,631 163,636 164.75,640.6 M165.5,627.5 Q172,628.5 174.75,635.6" stroke="#595959" stroke-width="0.55" fill="none"/>
</g>
<g id="l2">
<g transform="translate(174,-1.6)">
<path d="M107.2,576.3 Q108.8,565.5 116,564.3 Q119,563.7 124,563.7 L222,563.9 Q227,564 229,566 Q232,568.6 233.2,574 Q235,585 234.8,592.5 Q234.8,603 233.5,608.8 L228.5,615 Q227,623 224.1,626.3 Q210,627.3 190,627.6 L140,627.8 Q125,627.5 121,627 Q117,626.4 115,623.5 L109.8,616.2 L105.4,611.2 Q105,600 106,592.5 Q106.3,584 107.2,576.3 Z" fill="#4a4a4a"/>
<path d="M112.9,596 Q112.8,586 116,581 Q118.5,577.3 124,576.2 Q138,573.6 152,573.1 L191,573.1 Q208,573.6 221,576 Q225.5,577 227.3,580.5 Q229.8,587 229.8,597.5 Q229.5,609 226.5,616 Q224.8,620.3 221,621.6 Q205,624.3 185,625 L158,625 Q138,624.6 123,623.2 Q119,622.6 117.3,619.5 Q113.3,610 112.9,596 Z" fill="#808080" stroke="#383838" stroke-width="1" stroke-dasharray="1.8 1.1"/>
</g>
<path d="M330.6,562 Q333,567 335,570 Q333.5,583 332.5,596.3 Q330.5,610 328.1,624" stroke="#2f2f2f" stroke-width="0.6" fill="none"/>
<path d="M297.8,578.1 L326.9,574.8 M297.8,578.1 L291,597.5 M297.8,578.1 L327.8,597.5 M297.8,578.1 L299.6,618.8 M297.8,578.1 L322.8,619.8 M326.9,574.8 L291,597.5 M326.9,574.8 L327.8,597.5 M326.9,574.8 L299.6,618.8 M326.9,574.8 L322.8,619.8 M291,597.5 L327.8,597.5 M291,597.5 L299.6,618.8 M291,597.5 L322.8,619.8 M327.8,597.5 L299.6,618.8 M327.8,597.5 L322.8,619.8 M299.6,618.8 L322.8,619.8 " stroke="#2a2a2a" stroke-width="0.5" fill="none"/>
<path d="M340,574.8 L363.1,575 M363.1,575 L396.3,577.9 M396.3,577.9 L400.4,595.9 M400.4,595.9 L393.5,616.9 M393.5,616.9 L359.6,619.8 M359.6,619.8 L333.8,619 M333.8,619 L336,597.9 M336,597.9 L340,574.8 M340,574.8 L359.6,619.8 M340,574.8 L393.5,616.9 M363.1,575 L333.8,619 M363.1,575 L359.6,619.8 M363.1,575 L393.5,616.9 M396.3,577.9 L336,597.9 M396.3,577.9 L359.6,619.8 M396.3,577.9 L333.8,619 M336,597.9 L359.6,619.8 M336,597.9 L393.5,616.9 M400.4,595.9 L359.6,619.8 M400.4,595.9 L363.1,575 M336,597.9 L363.1,575 " stroke="#2a2a2a" stroke-width="0.5" fill="none"/>
<rect x="324.95" y="572.85" width="3.9" height="3.9" fill="#f7f7f7"/>
<rect x="289.05" y="595.55" width="3.9" height="3.9" fill="#f7f7f7"/>
<rect x="325.85" y="595.55" width="3.9" height="3.9" fill="#f7f7f7"/>
<rect x="320.85" y="617.85" width="3.9" height="3.9" fill="#f7f7f7"/>
<rect x="338.05" y="572.85" width="3.9" height="3.9" fill="#f7f7f7"/>
<rect x="361.15" y="573.05" width="3.9" height="3.9" fill="#f7f7f7"/>
<rect x="334.05" y="595.95" width="3.9" height="3.9" fill="#f7f7f7"/>
<rect x="398.45" y="593.95" width="3.9" height="3.9" fill="#f7f7f7"/>
<rect x="331.85" y="617.05" width="3.9" height="3.9" fill="#f7f7f7"/>
<rect x="357.65" y="617.85" width="3.9" height="3.9" fill="#f7f7f7"/>
<rect x="295.85" y="576.15" width="3.9" height="3.9" fill="#f7f7f7" transform="rotate(40 297.8 578.1)"/>
<rect x="394.35" y="575.95" width="3.9" height="3.9" fill="#f7f7f7" transform="rotate(40 396.3 577.9)"/>
<rect x="297.65" y="616.85" width="3.9" height="3.9" fill="#f7f7f7" transform="rotate(40 299.6 618.8)"/>
<rect x="391.55" y="614.95" width="3.9" height="3.9" fill="#f7f7f7" transform="rotate(40 393.5 616.9)"/>
<path d="M288.75,621.25 Q288,628 283.75,631.25 M294.4,625.6 Q296.8,630 296.25,634.4 M393.75,626.3 Q392,630 392.5,633.1 M400.6,620 Q401.5,628 405.6,631.25" stroke="#595959" stroke-width="0.55" fill="none"/>
</g>
<g id="l3">
<g transform="translate(348.4,-0.25)">
<path d="M107.2,576.3 Q108.8,565.5 116,564.3 Q119,563.7 124,563.7 L222,563.9 Q227,564 229,566 Q232,568.6 233.2,574 Q235,585 234.8,592.5 Q234.8,603 233.5,608.8 L228.5,615 Q227,623 224.1,626.3 Q210,627.3 190,627.6 L140,627.8 Q125,627.5 121,627 Q117,626.4 115,623.5 L109.8,616.2 L105.4,611.2 Q105,600 106,592.5 Q106.3,584 107.2,576.3 Z" fill="#4a4a4a"/>
<path d="M112.9,596 Q112.8,586 116,581 Q118.5,577.3 124,576.2 Q138,573.6 152,573.1 L191,573.1 Q208,573.6 221,576 Q225.5,577 227.3,580.5 Q229.8,587 229.8,597.5 Q229.5,609 226.5,616 Q224.8,620.3 221,621.6 Q205,624.3 185,625 L158,625 Q138,624.6 123,623.2 Q119,622.6 117.3,619.5 Q113.3,610 112.9,596 Z" fill="#808080" stroke="#383838" stroke-width="1" stroke-dasharray="1.8 1.1"/>
</g>
<path d="M504.4,563.5 Q506.5,568 508.8,571.3 Q507.5,584 506.3,596.3 Q504.5,610 501.9,625 M526.9,563.5 Q529,568 531.3,571.3 Q530,584 528.8,596 Q527,610 525,625.6" stroke="#2f2f2f" stroke-width="0.6" fill="none"/>
<path d="M471.6,580 L500.9,576.5 M471.6,580 L465,599 M471.6,580 L501.9,599 M471.6,580 L473.5,620.6 M471.6,580 L496.9,621.6 M500.9,576.5 L465,599 M500.9,576.5 L501.9,599 M500.9,576.5 L473.5,620.6 M500.9,576.5 L496.9,621.6 M465,599 L501.9,599 M465,599 L473.5,620.6 M465,599 L496.9,621.6 M501.9,599 L473.5,620.6 M501.9,599 L496.9,621.6 M473.5,620.6 L496.9,621.6 " stroke="#2a2a2a" stroke-width="0.5" fill="none"/>
<path d="M536.9,576.9 L570.3,579.8 M536.9,576.9 L532.8,599 M536.9,576.9 L574.4,597.9 M536.9,576.9 L533.1,621.3 M536.9,576.9 L567.3,618.1 M570.3,579.8 L532.8,599 M570.3,579.8 L574.4,597.9 M570.3,579.8 L533.1,621.3 M570.3,579.8 L567.3,618.1 M532.8,599 L574.4,597.9 M532.8,599 L533.1,621.3 M532.8,599 L567.3,618.1 M574.4,597.9 L533.1,621.3 M574.4,597.9 L567.3,618.1 M533.1,621.3 L567.3,618.1 " stroke="#2a2a2a" stroke-width="0.5" fill="none"/>
<path d="M513.8,576.5 L526.9,576.9 M507.9,620.6 L520.4,620.6 M509.8,599 L524,599 M513.8,576.5 L507.9,620.6 M513.8,576.5 L509.8,599 M513.8,576.5 L520.4,620.6 M526.9,576.9 L507.9,620.6 M526.9,576.9 L520.4,620.6 M526.9,576.9 L524,599 M509.8,599 L507.9,620.6 M524,599 L520.4,620.6 M513.8,576.5 L524,599 M526.9,576.9 L509.8,599 " stroke="#2f2f2f" stroke-width="0.7" fill="none"/>
<rect x="498.95" y="574.55" width="3.9" height="3.9" fill="#f7f7f7"/>
<rect x="463.05" y="597.05" width="3.9" height="3.9" fill="#f7f7f7"/>
<rect x="499.95" y="597.05" width="3.9" height="3.9" fill="#f7f7f7"/>
<rect x="494.95" y="619.65" width="3.9" height="3.9" fill="#f7f7f7"/>
<rect x="511.85" y="574.55" width="3.9" height="3.9" fill="#f7f7f7"/>
<rect x="524.95" y="574.95" width="3.9" height="3.9" fill="#f7f7f7"/>
<rect x="507.85" y="597.05" width="3.9" height="3.9" fill="#f7f7f7"/>
<rect x="522.05" y="597.05" width="3.9" height="3.9" fill="#f7f7f7"/>
<rect x="505.95" y="618.65" width="3.9" height="3.9" fill="#f7f7f7"/>
<rect x="518.45" y="618.65" width="3.9" height="3.9" fill="#f7f7f7"/>
<rect x="534.95" y="574.95" width="3.9" height="3.9" fill="#f7f7f7"/>
<rect x="530.85" y="597.05" width="3.9" height="3.9" fill="#f7f7f7"/>
<rect x="572.45" y="595.95" width="3.9" height="3.9" fill="#f7f7f7"/>
<rect x="531.15" y="619.35" width="3.9" height="3.9" fill="#f7f7f7"/>
<rect x="469.65" y="578.05" width="3.9" height="3.9" fill="#f7f7f7" transform="rotate(40 471.6 580)"/>
<rect x="568.35" y="577.85" width="3.9" height="3.9" fill="#f7f7f7" transform="rotate(40 570.3 579.8)"/>
<rect x="471.55" y="618.65" width="3.9" height="3.9" fill="#f7f7f7" transform="rotate(40 473.5 620.6)"/>
<rect x="565.35" y="616.15" width="3.9" height="3.9" fill="#f7f7f7" transform="rotate(40 567.3 618.1)"/>
<path d="M461.9,622.5 Q461,629.5 457.5,632.5 M468.75,627.5 Q470.8,632 470,636.25 M510,627.5 C514,632 511.5,636 513.5,640.6 M515,628.1 Q520.5,629 522.75,635 M566.9,628.1 Q565,631.5 565.6,634.4 M575,621.25 Q575.5,629.5 579.4,633.1" stroke="#595959" stroke-width="0.55" fill="none"/>
</g>
<g id="h1">
<path d="M117.2,767.5 L117,729.2 Q117.2,723 118,720 Q120,714 123.4,709.3 Q127,703.5 132.5,699.4 Q138,696 144.8,694 Q153,692 163.2,691.7 Q173,691.6 181.5,692.5 Q190,694 196.8,696.3 Q203,699 206,703.2 L206.8,720.8 Q201,721.5 196.8,723.1 Q191,725.5 188.4,729.2 Q185,733.5 184.6,738.4 L184.6,762.9 Q184,770 181.5,775.1 Q178.5,779.5 172.4,781 Q162,782.3 150.9,782 Q140,781.8 131,780.5 Q124,779.3 120.3,776.7 Q117.6,773.5 117.2,767.5 Z" fill="#818181"/>
<path d="M196.8,696.3 Q188,699 181.5,704.7 Q174,711.5 169.3,721.6 Q164.8,731 163.2,741.5 Q161.8,751 162.4,759.8 Q163,768 165.5,773.6 Q168,778.5 172.4,781" fill="none" stroke="#2e2e2e" stroke-width="0.55"/>
<path d="M135.6,677.2 Q129.5,682.5 130.2,690" stroke="#444" stroke-width="0.6" fill="none"/>
<path d="M0,0 L-4.25,-9.7 L0,-8.3 L4.25,-9.7 Z" fill="#000" transform="translate(132.20,698.30) rotate(-15.5) scale(1.0)"/>
<path d="M223.6,691 Q222,698.5 215.5,702" stroke="#444" stroke-width="0.6" fill="none"/>
<path d="M0,0 L-4.25,-9.7 L0,-8.3 L4.25,-9.7 Z" fill="#000" transform="translate(206.80,704.40) rotate(74.7) scale(1.0)"/>
<path d="M120.3,752.5 L132.4,752.5" stroke="#2e2e2e" stroke-width="0.8" fill="none"/>
<path d="M0,0 L-4.25,-9.7 L0,-8.3 L4.25,-9.7 Z" fill="#000" transform="translate(139.40,752.50) rotate(-90.0) scale(1.0)"/>
<path d="M160.1,752.5 L148.4,752.5" stroke="#2e2e2e" stroke-width="0.8" fill="none"/>
<path d="M0,0 L-4.25,-9.7 L0,-8.3 L4.25,-9.7 Z" fill="#000" transform="translate(141.40,752.50) rotate(90.0) scale(1.0)"/>
<path d="M207.3,752.5 L195.1,752.5" stroke="#2e2e2e" stroke-width="0.8" fill="none"/>
<path d="M0,0 L-4.25,-9.7 L0,-8.3 L4.25,-9.7 Z" fill="#000" transform="translate(188.10,752.50) rotate(90.0) scale(1.0)"/>
</g>
<g id="h2">
<path d="M234.1,709.3 Q237,705 243,702.4 Q252,698.6 262.9,696.8 Q272,695.5 281.2,695.6 Q288,695.6 293.5,696.8 Q300,698.6 305.7,702.4 Q312.5,707.5 318,715.5 Q323.5,723.5 327.1,732.3 Q330.5,741 331.7,750.7 Q332.5,759.5 331.4,767.5 Q330.3,775 327.1,779.7 Q322.5,783.2 314.9,784.3 Q302,786.3 288.9,787.1 L270.5,787.1 Q264.5,785.8 261.3,782.8 Q258.5,779.5 257.5,775.1 Q256.3,767 256,759.8 Q255.6,753.5 254.4,749.1 Q252.5,744 249.1,739.9 Q245.5,735.5 241.4,732.3 Q238,730.2 234.1,729.2 Z" fill="#818181"/>
<path d="M234.1,728.5 Q242,724 250.6,721.6 Q258,719.6 265.9,719.3 Q276,719.6 285.8,722.3 Q293.5,726 299.6,732.3 Q305.2,739 308.8,747.6 Q311.5,756 312.6,766 Q313.5,775 313.7,784.4 M254.4,748.4 L281.2,747.6 L307.4,746 M285.8,722.3 Q286,717 288.1,712.4 Q290.5,707.5 295,704 Q299,701.7 304.2,700.9" fill="none" stroke="#2e2e2e" stroke-width="0.55"/>
<path d="M232.2,686.4 Q227.5,692 228.6,699" stroke="#444" stroke-width="0.6" fill="none"/>
<path d="M0,0 L-4.25,-9.7 L0,-8.3 L4.25,-9.7 Z" fill="#000" transform="translate(232.20,708.20) rotate(-20.3) scale(1.0)"/>
<path d="M246.8,695.2 Q242,700.5 242.8,707.5" stroke="#444" stroke-width="0.6" fill="none"/>
<path d="M0,0 L-4.25,-9.7 L0,-8.3 L4.25,-9.7 Z" fill="#000" transform="translate(246.30,717.00) rotate(-21.1) scale(1.0)"/>
<path d="M285.8,691 Q281,697 282,704" stroke="#444" stroke-width="0.6" fill="none"/>
<path d="M0,0 L-4.25,-9.7 L0,-8.3 L4.25,-9.7 Z" fill="#000" transform="translate(285.80,712.80) rotate(-22.6) scale(1.0)"/>
<path d="M312.6,700.9 Q311,708 305,711.5" stroke="#444" stroke-width="0.6" fill="none"/>
<path d="M0,0 L-4.25,-9.7 L0,-8.3 L4.25,-9.7 Z" fill="#000" transform="translate(295.30,713.90) rotate(78.3) scale(1.0)"/>
<path d="M233.8,761.4 L245.9,761.4" stroke="#2e2e2e" stroke-width="0.8" fill="none"/>
<path d="M0,0 L-4.25,-9.7 L0,-8.3 L4.25,-9.7 Z" fill="#000" transform="translate(252.90,761.40) rotate(-90.0) scale(1.0)"/>
<path d="M288.1,761.4 L299.9,761.4" stroke="#2e2e2e" stroke-width="0.8" fill="none"/>
<path d="M0,0 L-4.25,-9.7 L0,-8.3 L4.25,-9.7 Z" fill="#000" transform="translate(306.90,761.40) rotate(-90.0) scale(1.0)"/>
<path d="M353.2,761.3 L341.6,761.3" stroke="#2e2e2e" stroke-width="0.8" fill="none"/>
<path d="M0,0 L-4.25,-9.7 L0,-8.3 L4.25,-9.7 Z" fill="#000" transform="translate(334.60,761.30) rotate(90.0) scale(1.0)"/>
</g>
<g id="h3">
<path d="M358.6,729.3 Q358.7,721 359.5,713.9 Q361,705.5 364.9,700.9 Q369,695.5 375.6,693.7 L406.3,693.7 L432.3,694.8 Q439.5,695.6 444.5,697.9 Q449.5,701.5 452.2,707.8 Q454.7,716 455.3,726.2 Q455.9,735 455.6,744.6 Q455.2,756 453.7,766 Q452.5,773.5 450.7,778.6 Q448.5,776.5 446.8,773.7 Q445,771.6 443,770.9 Q438.5,770.8 434.6,771.4 Q431.5,767 428.5,764.2 Q426,767.5 424.6,771.4 L406.3,772.1 L375.6,772.9 Q370,772.8 366.4,771.4 Q362.8,768 361.1,761.4 Q359,753 358.5,744.6 Z" fill="#818181"/>
<path d="M444.5,697.9 Q439,698.3 435.4,700.9 Q431.3,706 429.2,713.9 Q426.8,724 426.2,735.4 Q426,745 426.9,753.8 Q427.6,759.5 428.9,763.7 Q431,768.5 434.6,771.4" fill="none" stroke="#2e2e2e" stroke-width="0.55"/>
<path d="M424.6,772.1 Q421,775.5 422.3,778.3 Q426.6,783 426.6,786.7 L426.3,791.7 M433.8,772.1 Q431.5,775.5 432.6,778.3 Q436.6,783 436.5,786.7 L436.2,791.7" fill="none" stroke="#6a6a6a" stroke-width="0.5"/>
<path d="M381.8,734.3 L370.1,734.3" stroke="#2e2e2e" stroke-width="0.8" fill="none"/>
<path d="M0,0 L-4.25,-9.7 L0,-8.3 L4.25,-9.7 Z" fill="#000" transform="translate(363.10,734.30) rotate(90.0) scale(1.0)"/>
<path d="M403.2,734.3 L415.3,734.3" stroke="#2e2e2e" stroke-width="0.8" fill="none"/>
<path d="M0,0 L-4.25,-9.7 L0,-8.3 L4.25,-9.7 Z" fill="#000" transform="translate(422.30,734.30) rotate(-90.0) scale(1.0)"/>
<path d="M479.8,734.3 L468.1,734.3" stroke="#2e2e2e" stroke-width="0.8" fill="none"/>
<path d="M0,0 L-4.25,-9.7 L0,-8.3 L4.25,-9.7 Z" fill="#000" transform="translate(461.10,734.30) rotate(90.0) scale(1.0)"/>
</g>
<g id="h4">
<path d="M494.5,736.9 Q494.8,728.5 496.1,721.6 Q498,712.5 501.4,706.3 Q505,701 510.6,699.4 Q521,697.7 533.6,697.4 Q546,697.5 556.6,698.6 Q565.5,699.8 571.9,702.5 Q576.8,706 579.5,712.4 Q582,720 582.6,729.3 Q582.6,739 581.1,747.6 Q579.6,756 577.2,762.9 Q575.3,766.5 571.9,768.3 L556.6,776 Q549.5,778.2 541.3,779 Q530,779.9 518.3,779.5 Q510,778.9 504.5,776.7 Q500,773 497.6,766 Q495.3,758.5 494.5,750.7 Z" fill="#818181"/>
<path d="M503,707 Q514,705 525.9,704.4 Q538,704.4 548.9,705.5 Q557,706.5 564.2,708.1 M573.4,703.5 Q568,705 564.2,708.6 Q560.8,714.5 558.9,723.1 Q556.8,733.5 556.3,744.6 L556.3,775.5" fill="none" stroke="#2e2e2e" stroke-width="0.55"/>
<path d="M571.9,769.1 Q573.5,774 571.3,778.5 Q568.4,783.5 568.5,789.7 M575.7,767.5 Q577.8,773 575.6,777.8 Q573,783 573.1,789" fill="none" stroke="#6a6a6a" stroke-width="0.5"/>
<path d="M518.3,747.2 L506.9,747.2" stroke="#2e2e2e" stroke-width="0.8" fill="none"/>
<path d="M0,0 L-4.25,-9.7 L0,-8.3 L4.25,-9.7 Z" fill="#000" transform="translate(499.90,747.20) rotate(90.0) scale(1.0)"/>
<path d="M532.1,747.2 L544.2,747.2" stroke="#2e2e2e" stroke-width="0.8" fill="none"/>
<path d="M0,0 L-4.25,-9.7 L0,-8.3 L4.25,-9.7 Z" fill="#000" transform="translate(551.20,747.20) rotate(-90.0) scale(1.0)"/>
<path d="M595.6,720.1 Q596.5,728 592.2,733.6" stroke="#444" stroke-width="0.6" fill="none"/>
<path d="M0,0 L-4.25,-9.7 L0,-8.3 L4.25,-9.7 Z" fill="#000" transform="translate(584.90,739.70) rotate(52.0) scale(1.0)"/>
</g>
</svg>
<div class="t" style="top:35.95px;letter-spacing:-0.424px">Установку чехлов удобнее всего начинать с передних сидений.</div>
<div class="t" style="top:77.75px;letter-spacing:-0.444px">1. Отключите минусовую клемму с аккумуляторной батареи.</div>
<div class="t" style="top:119.55px;letter-spacing:-0.439px">2. При необходимости демонтируйте сиденья и снимите</div>
<div class="t" style="top:140.45px;letter-spacing:-0.455px">декоративные накладки подушек сидений (если они есть).</div>
<div class="t" style="top:161.35px;letter-spacing:-0.328px">Не забудьте отключить электропроводку.</div>
<div class="t" style="top:203.15px;letter-spacing:-0.435px">3. Снимите подголовники.</div>
<div class="t" style="top:244.95px;letter-spacing:-0.472px">4. Наденьте чехлы на снятые подголовники. При надевании чехлов</div>
<div class="t" style="top:265.85px;letter-spacing:-0.367px">сжимайте бока подголовников. Застегните надетый чехол</div>
<div class="t" style="top:286.75px;letter-spacing:-0.471px">липучкой или затяните шнуром.</div>
<div class="t" style="top:328.55px;letter-spacing:-0.459px">5. Наденьте чехол на подушку переднего сиденья. Натяните и</div>
<div class="t" style="top:349.45px;letter-spacing:-0.442px">выровняйте чехол, заправив задний клапан с липучкой и</div>
<div class="t" style="top:370.35px;letter-spacing:-0.384px">резинками между подушкой сиденья и спинкой. Протяните шнур</div>
<div class="t" style="top:391.25px;letter-spacing:-0.466px">через петлю на передней части чехла и завяжите на узел. Для</div>
<div class="t" style="top:412.15px;letter-spacing:-0.439px">лучшей фиксации чехла шнуром, используйте металлический</div>
<div class="t" style="top:433.05px;letter-spacing:-0.271px">каркас сиденья. Натяните резинки и зацепите крючки за каркас.</div>
<div class="t" style="top:474.85px;letter-spacing:-0.473px">6. Наденьте чехол на спинку переднего сиденья. Если передние</div>
<div class="t" style="top:495.75px;letter-spacing:-0.388px">спинки оборудованы боковыми подушками безопасности, то чехлы</div>
<div class="t" style="top:516.65px;letter-spacing:-0.420px">необходимо размещать надписью AIRBAG наружу (к боковой стойке</div>
<div class="t" style="top:537.55px;letter-spacing:-0.430px">автомобиля). При надевании чехла сжимайте боковые части спинки</div>
<div class="t" style="top:558.45px;letter-spacing:-0.453px">сиденья для лучшего натяжения. Заправьте чехол под пластиковые</div>
<div class="t" style="top:579.35px;letter-spacing:-0.382px">элементы крепления подголовника через технологические отверстия.</div>
<div class="t" style="top:600.25px;letter-spacing:-0.387px">Продев клапан между подушкой сиденья и спинкой, застегните</div>
<div class="t" style="top:621.15px;letter-spacing:-0.453px">переднюю и заднюю части чехла на липучку. Задний клапан</div>
<div class="t" style="top:642.05px;letter-spacing:-0.287px">крепится к каркасу подушки сиденья с помощью крючков.</div>
<div class="t" style="top:683.85px;letter-spacing:-0.301px">7. Вставьте подголовники.</div>
<div class="t" style="top:725.65px;letter-spacing:-0.386px">8. При монтаже сидений сначала подключите электропроводку</div>
<div class="t" style="top:746.55px;letter-spacing:-0.438px">и только затем подключите клемму на аккумуляторную батарею.</div>
<div class="t" style="top:788.35px;letter-spacing:-0.432px">Установка чехлов на задние сиденья осуществляется аналогично.</div>
</div></body></html>
